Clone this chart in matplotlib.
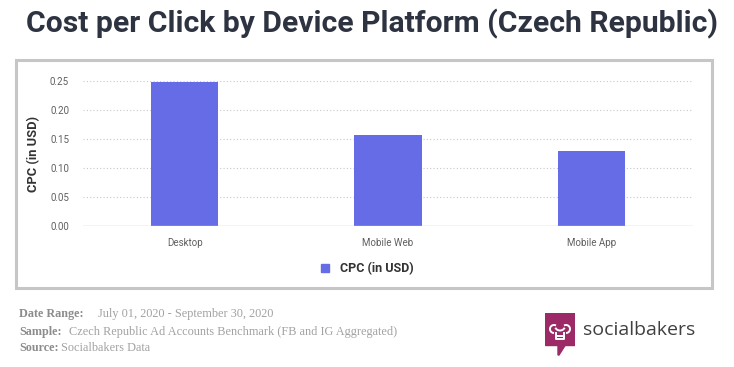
import matplotlib.pyplot as plt
from matplotlib.patches import Rectangle, Polygon, Arc
from matplotlib.lines import Line2D

# chart data
platforms = ["Desktop", "Mobile Web", "Mobile App"]
cpc_usd = [0.248, 0.157, 0.129]
y_ticks = [0.00, 0.05, 0.10, 0.15, 0.20, 0.25]

title = "Cost per Click by Device Platform (Czech Republic)"
series_name = "CPC (in USD)"
footer_labels = ["Date Range:", "Sample:", "Source:"]
footer_values = ["July 01, 2020 - September 30, 2020",
                 "Czech Republic Ad Accounts Benchmark (FB and IG Aggregated)",
                 "Socialbakers Data"]

W, H = 734, 367
bar_color = "#656ce6"

fig = plt.figure(figsize=(W / 100, H / 100), dpi=100)
fig.patch.set_facecolor("white")

def fx(px):
    return px / W

def fy(py):
    return 1 - py / H

# title
fig.text(fx(372), fy(24), title, ha="center", va="center", fontsize=21.7,
         fontweight="bold", family="Roboto", color="#2d3340")

# grey frame around the chart
fig.patches.append(Rectangle((fx(16), fy(288)), fx(712) - fx(16), fy(60) - fy(288),
                             transform=fig.transFigure, fill=False,
                             edgecolor="#c6c6c6", linewidth=2.2))

# main axes
ax = fig.add_axes([fx(83), fy(226), fx(693) - fx(83), fy(81) - fy(226)])
x = range(len(platforms))
ax.bar(x, cpc_usd, width=0.33, color=bar_color, zorder=3)
ax.set_xlim(-0.5, len(platforms) - 0.5)
ax.set_ylim(0, 0.25)
ax.set_yticks(y_ticks)
ax.set_yticklabels([f"{v:.2f}" for v in y_ticks])
ax.set_xticks(list(x))
ax.set_xticklabels(platforms)
for s in ax.spines.values():
    s.set_visible(False)
ax.tick_params(axis="both", length=0, labelsize=7, labelcolor="#5f5f5f")
ax.tick_params(axis="y", pad=10)
ax.tick_params(axis="x", pad=9)
for lab in ax.get_xticklabels() + ax.get_yticklabels():
    lab.set_family("Roboto")
ax.grid(axis="y", linestyle=(0, (1, 2)), color="#c8c8c8", linewidth=0.8, zorder=0)
ax.axhline(0, color="#cfcfcf", linewidth=1.0, zorder=4)
ax.set_ylabel(series_name, fontsize=9.3, fontweight="bold", family="Roboto",
              color="#333333", labelpad=7)

# legend
handle = Line2D([], [], marker="s", linestyle="none", markersize=5.5,
                markerfacecolor=bar_color, markeredgecolor=bar_color)
leg = fig.legend([handle], [series_name], loc="center left",
                 bbox_to_anchor=(fx(306), fy(269)), frameon=False,
                 handlelength=1.2, handletextpad=0.6,
                 prop={"family": "Roboto", "weight": "bold", "size": 9})
for t in leg.get_texts():
    t.set_color("#333333")

# footer notes
rows_y = [314, 332, 348]
gaps_pt = [10, 5, 2]
for lab, val, py, gap in zip(footer_labels, footer_values, rows_y, gaps_pt):
    t = fig.text(fx(19), fy(py), lab, ha="left", va="center", fontsize=8.7,
                 fontweight="bold", family="Liberation Serif", color="#8c8c8c")
    plt.annotate(val, xy=(1, 0.5), xycoords=t, xytext=(gap, 0),
                 textcoords="offset points", ha="left", va="center",
                 fontsize=8.8, family="Liberation Serif", color="#a2a2a2")

# socialbakers logo
lax = fig.add_axes([fx(545), fy(356), fx(575) - fx(545), fy(313) - fy(356)])
lax.set_xlim(0, 30)
lax.set_ylim(43, 0)
lax.axis("off")
logo_color = "#9b2a66"
lax.add_patch(Rectangle((0, 0), 30, 32, color=logo_color))
lax.add_patch(Polygon([(13, 31), (21, 31), (14, 42), (13, 42)], color=logo_color))
hat = dict(color="white", linewidth=1.4)
lax.add_patch(Arc((9, 16), 8, 8, theta1=90, theta2=300, **hat))
lax.add_patch(Arc((15, 13), 10, 9, theta1=20, theta2=160, **hat))
lax.add_patch(Arc((21, 16), 8, 8, theta1=-120, theta2=90, **hat))
lax.plot([11, 11, 19, 19], [19.5, 26, 26, 19.5], **hat)
lax.plot([11, 19], [22.5, 22.5], **hat)

fig.text(fx(583), fy(330), "socialbakers", ha="left", va="center", fontsize=14,
         family="Open Sans", color="#404040")

fig.savefig("out.png", dpi=100)
